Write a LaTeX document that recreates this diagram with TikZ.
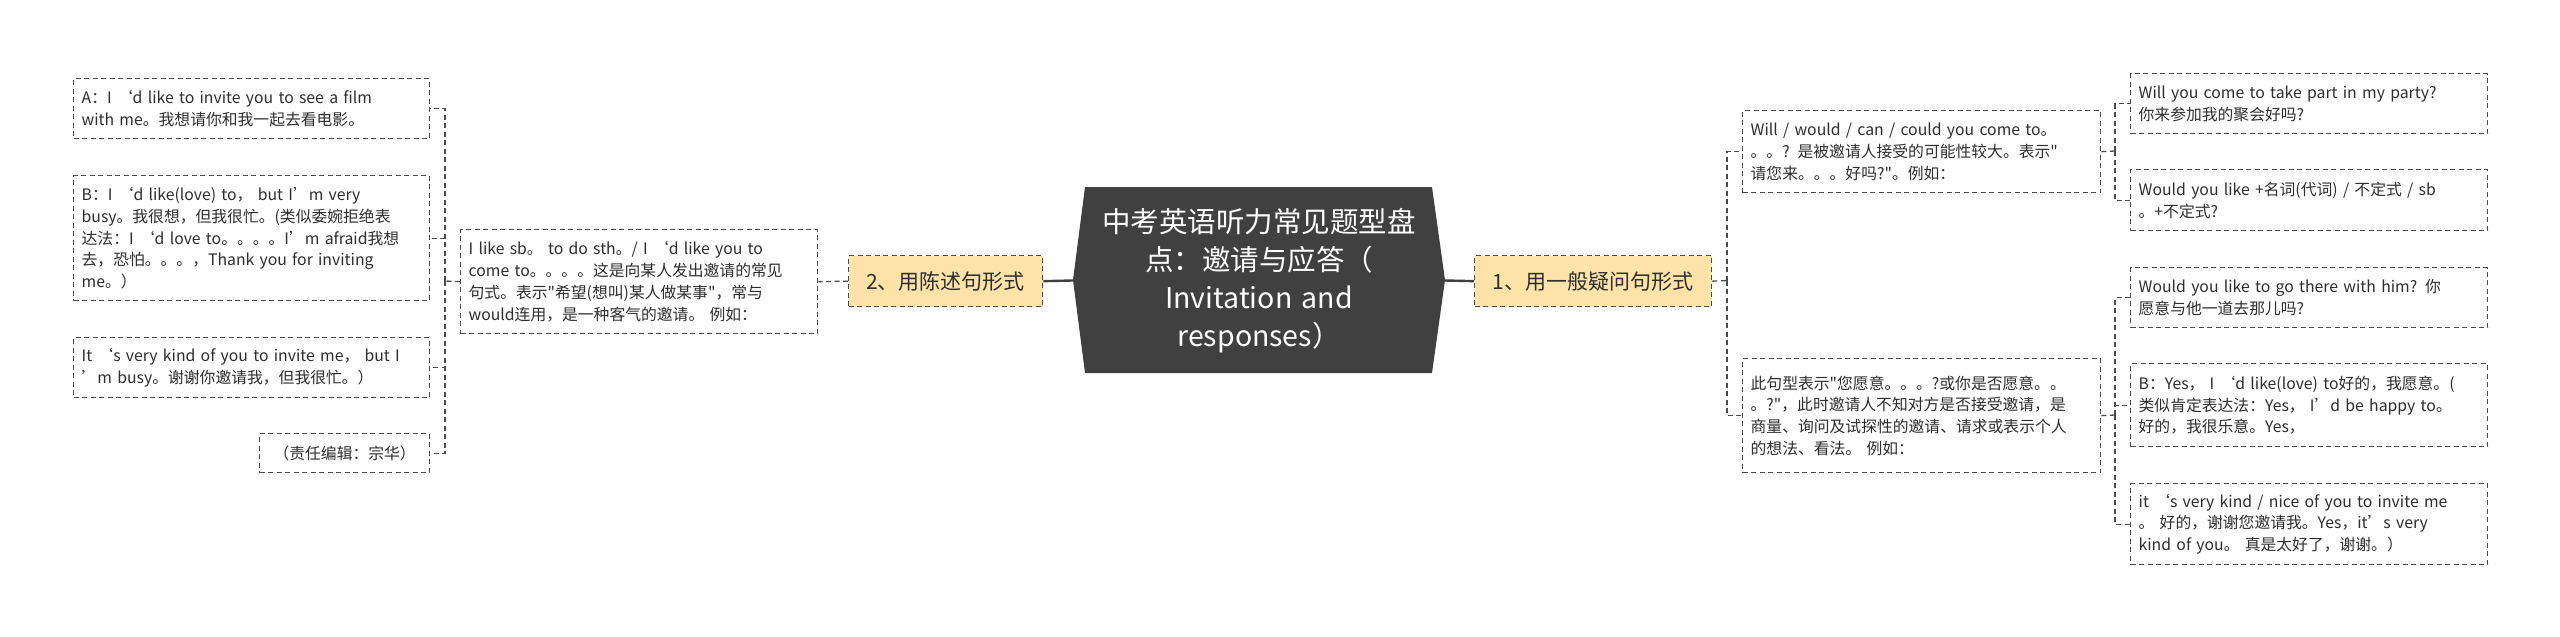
\documentclass[tikz,border=0pt]{standalone}
\usepackage{fontspec}
\setmainfont{Noto Sans CJK SC}[Ligatures=TeXOff]
\definecolor{boxline}{HTML}{4A4A4A}
\definecolor{txt}{HTML}{2E2E2E}
\definecolor{topicfill}{HTML}{FDE3A7}
\definecolor{centerfill}{HTML}{404040}
\tikzset{
  leafstyle/.style={draw=boxline, line width=1.3pt, dash pattern=on 5pt off 3.5pt,
    inner xsep=8pt, inner ysep=4pt, align=left, text=txt, anchor=north west,
    font=\fontsize{15.8}{21.7}\selectfont},
  topicstyle/.style={draw=boxline, fill=topicfill, line width=1.3pt, dash pattern=on 5pt off 3.5pt,
    inner xsep=6pt, inner ysep=4pt, align=center, text=txt, anchor=north west,
    font=\fontsize{21}{26}\selectfont},
  conn/.style={draw=boxline, line width=1.3pt, dash pattern=on 5pt off 3.5pt},
  mainconn/.style={draw=centerfill, line width=2.4pt},
}
\newcommand{\mmleaf}[7]{\node[leafstyle, minimum width=#4pt, minimum height=#5pt, text width=#6pt] (#1) at (#2,#3) {#7};}
\begin{document}
\begin{tikzpicture}[x={(1pt,0pt)}, y={(0pt,-1pt)}]
\useasboundingbox (0,0) rectangle (2560,637);
\fill[white] (0,0) rectangle (2560,637);

% central topic
\fill[centerfill] (1085,187) -- (1432,187) -- (1445,280) -- (1432,373) -- (1085,373) -- (1073,280) -- cycle;
\coordinate (ctrL) at (1073,280.5);
\coordinate (ctrR) at (1445,280.5);
\node[text=white, align=center, text width=340pt, font=\fontsize{28.5}{38}\selectfont] (ctr) at (1259,281)
  {中考英语听力常见题型盘\\点：邀请与应答（\\Invitation and\\responses）};

% main topics
\node[topicstyle, minimum width=194pt, minimum height=51pt] (n2) at (848,255) {2、用陈述句形式};
\node[topicstyle, minimum width=237pt, minimum height=51pt] (n1) at (1474,255) {1、用一般疑问句形式};

% left side
\mmleaf{p2}{460}{229}{357}{104}{341}{I like sb。 to do sth。/ I ‘d like you to\\come to。。。。这是向某人发出邀请的常见\\句式。表示"希望(想叫)某人做某事"，常与\\would连用，是一种客气的邀请。 例如：}
\mmleaf{A}{73}{78}{356}{60}{340}{A：I ‘d like to invite you to see a film\\with me。我想请你和我一起去看电影。}
\mmleaf{B}{73}{175}{356}{125}{340}{B：I ‘d like(love) to， but I’m very\\busy。我很想，但我很忙。(类似委婉拒绝表\\达法：I ‘d love to。。。。I’m afraid我想\\去，恐怕。。。，Thank you for inviting\\me。）}
\mmleaf{It}{73}{337}{356}{60}{340}{It ‘s very kind of you to invite me， but I\\’m busy。谢谢你邀请我，但我很忙。）}
\node[leafstyle, align=center, minimum width=170pt, minimum height=39pt] (Ed) at (259,433) {（责任编辑：宗华）};

% right side
\mmleaf{W}{1742}{110}{358}{82}{342}{Will / would / can / could you come to。\\。。? 是被邀请人接受的可能性较大。表示"\\请您来。。。好吗?"。例如：}
\mmleaf{C}{1742}{358}{358}{114}{342}{此句型表示"您愿意。。。?或你是否愿意。。\\。?"，此时邀请人不知对方是否接受邀请，是\\商量、询问及试探性的邀请、请求或表示个人\\的想法、看法。 例如：}
\mmleaf{r1}{2130}{73}{357}{60}{341}{Will you come to take part in my party?\\你来参加我的聚会好吗?}
\mmleaf{r2}{2130}{169}{357}{61}{341}{Would you like +名词(代词) / 不定式 / sb\\。+不定式?}
\mmleaf{r3}{2130}{267}{357}{60}{341}{Would you like to go there with him? 你\\愿意与他一道去那儿吗?}
\mmleaf{r4}{2130}{363}{357}{83}{341}{B：Yes， I ‘d like(love) to好的，我愿意。(\\类似肯定表达法：Yes， I’d be happy to。\\好的，我很乐意。Yes，}
\mmleaf{r5}{2130}{483}{357}{81}{341}{it ‘s very kind / nice of you to invite me\\。 好的，谢谢您邀请我。Yes，it’s very\\kind of you。 真是太好了，谢谢。）}

% connectors
\draw[mainconn] (ctrL) -- (n2.east);
\draw[mainconn] (ctrR) -- (n1.west);
\draw[conn] (n2.west) -- (p2.east);

\coordinate (lj) at (445,281);
\draw[conn] (p2.west) -- (lj);
\draw[conn] (lj) |- (A.east);
\draw[conn] (lj) |- (B.east);
\draw[conn] (lj) |- (It.east);
\draw[conn] (lj) |- (Ed.east);

\coordinate (rj) at (1727,280.5);
\draw[conn] (n1.east) -- (rj);
\draw[conn] (rj) |- (W.west);
\draw[conn] (rj) |- (C.west);

\coordinate (wj) at (2115,151);
\draw[conn] (W.east) -- (wj);
\draw[conn] (wj) |- (r1.west);
\draw[conn] (wj) |- (r2.west);

\coordinate (cj) at (2115,415);
\draw[conn] (C.east) -- (cj);
\draw[conn] (cj) |- (r3.west);
\draw[conn] (cj) |- (r4.west);
\draw[conn] (cj) |- (r5.west);
\end{tikzpicture}
\end{document}
